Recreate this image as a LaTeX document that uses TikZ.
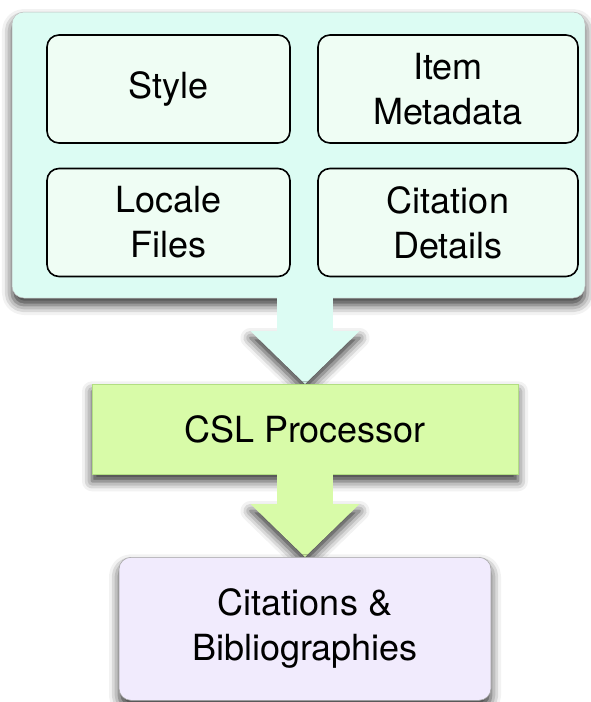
\documentclass[tikz,border=0pt]{standalone}
\usepackage{fontspec}
\setmainfont{TeX Gyre Heros}
\usetikzlibrary{shadows.blur,calc}

\definecolor{inputbg}{RGB}{220,252,243}
\definecolor{inputfill}{RGB}{239,253,244}
\definecolor{procbg}{RGB}{216,251,168}
\definecolor{procline}{RGB}{178,222,130}
\definecolor{outbg}{RGB}{241,235,253}

\begin{document}
\begin{tikzpicture}[x=1pt,y=-1pt]
\tikzstyle{every node}+=[inner sep=0pt, align=center, font=\fontsize{36}{45}\selectfont]
\tikzstyle{soft shadow}=[blur shadow={shadow xshift=0pt, shadow yshift=-7pt, shadow blur radius=10pt, shadow opacity=80}]
\tikzstyle{group}=[fill=inputbg, draw=black!25, line width=0.5pt, rounded corners=12pt, soft shadow]
\tikzstyle{input}=[fill=inputfill, draw=black, line width=1.6pt, rounded corners=12pt, minimum height=108pt]
\tikzstyle{proc}=[fill=procbg, draw=procline, line width=0.6pt, soft shadow, minimum width=426pt, minimum height=90pt]
\tikzstyle{output}=[fill=outbg, draw=black!35, line width=0.6pt, rounded corners=12pt, soft shadow, minimum width=372pt, minimum height=143pt]
\useasboundingbox (0,0) rectangle (591,702);
% inputs
\node [group, minimum width=573pt, minimum height=286pt] (inputs) at (298.5,155) {};
\node [input, minimum width=243pt] (style) at (168.5,89) {Style};
\node [input, minimum width=260pt] (item) at (448,89) {Item\\Metadata};
\node [input, minimum width=243pt] (locale) at (168.5,222.5) {Locale\\Files};
\node [input, minimum width=260pt] (details) at (448,222.5) {Citation\\Details};
% arrow into the processor
\coordinate (cslin) at (305,384);
\fill [inputbg, soft shadow] ($(cslin)+(54.5,-53)$) -- (cslin) -- ($(cslin)+(-54.5,-53)$) -- cycle;
\fill [inputbg] ($(cslin |- inputs.south)+(-28,-1)$) rectangle ($(cslin)+(28,-52)$);
\node [proc, anchor=north] (csl) at (cslin) {CSL Processor};
% arrow into the output
\coordinate (outin) at (305,557);
\fill [procbg, soft shadow] ($(outin)+(54.5,-53)$) -- (outin) -- ($(outin)+(-54.5,-53)$) -- cycle;
\fill [procbg] ($(csl.south)+(-28,-1)$) rectangle ($(outin)+(28,-52)$);
\node [output, anchor=north] (out) at (outin) {Citations \&\\Bibliographies};
\end{tikzpicture}
\end{document}
